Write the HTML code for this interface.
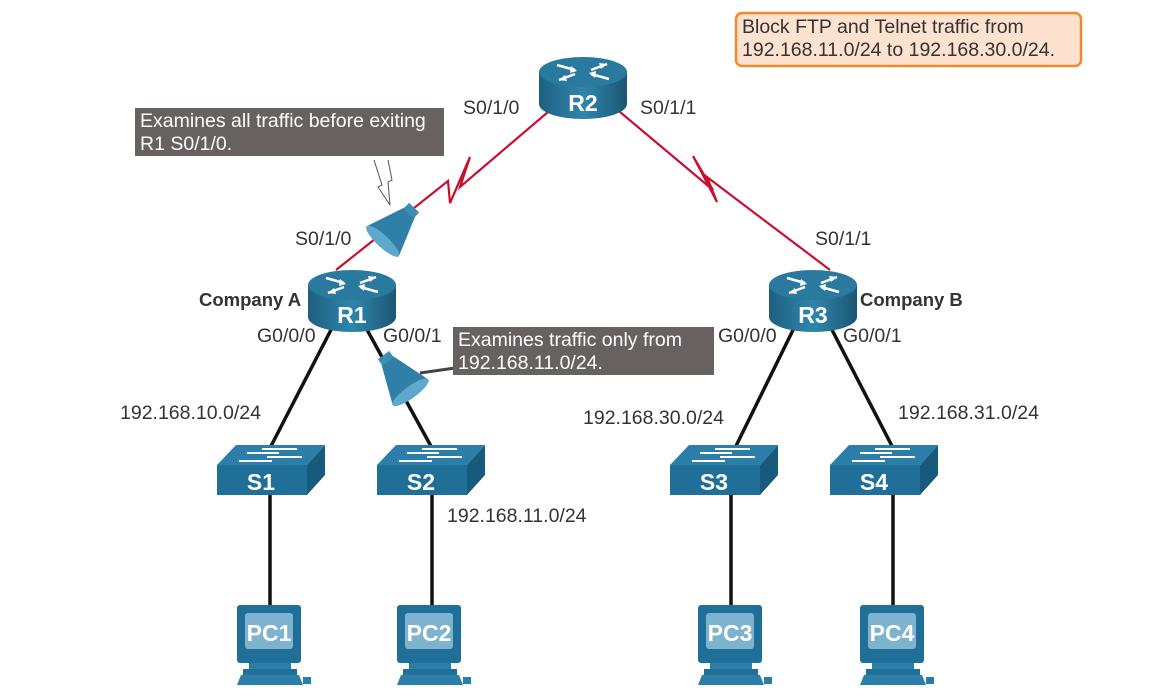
<!DOCTYPE html>
<html><head><meta charset="utf-8"><style>
html,body{margin:0;padding:0;background:#fff;}
svg{display:block;font-family:"Liberation Sans",sans-serif;}
.l{font-size:19.5px;fill:#333;}
.w{font-size:19.5px;fill:#fff;}
.b{font-size:18.5px;fill:#333;font-weight:bold;}
.n{font-size:23px;fill:#fff;font-weight:bold;text-anchor:middle;}
</style></head><body>
<svg width="1171" height="700" viewBox="0 0 1171 700" xmlns="http://www.w3.org/2000/svg">
<defs>
<linearGradient id="rg" x1="0" x2="1" y1="0" y2="0">
<stop offset="0" stop-color="#1e5f7f"/><stop offset="0.5" stop-color="#2f86ad"/><stop offset="1" stop-color="#1b5673"/></linearGradient>
<g id="router">
<path d="M-44,0 L-44,32 A44,15 0 0 0 44,32 L44,0 Z" fill="url(#rg)"/>
<ellipse cx="0" cy="0" rx="44" ry="15" fill="#2a7aa0"/>
<g stroke="#fff" stroke-width="2.5" fill="none">
<path d="M-26,-7 L-8,-2 M26,7 L8,2 M-24,8 L-8,2 M24,-8 L8,-2"/>
</g>
<g fill="#fff">
<path d="M-6,-1 L-12,-6 L-13,1 Z"/><path d="M6,1 L12,6 L13,-1 Z"/>
<path d="M-24,8 L-18,3 L-16,9 Z"/><path d="M24,-8 L18,-3 L16,-9 Z"/>
</g>
</g>
<g id="switch">
<path d="M19,0 L108,0 L90,20 L0,20 Z" fill="#2b7ea8"/>
<rect x="0" y="20" width="90" height="30" fill="#1f6f98"/>
<path d="M90,20 L108,0 L108,30 L90,50 Z" fill="#175a7c"/>
<g stroke="#fff" stroke-width="2"><path d="M45,4 L80,4 M30,8 L62,8 M50,12 L85,12 M22,16 L55,16"/></g>
</g>
<g id="pc">
<rect x="0" y="0" width="64" height="58" rx="3" fill="#1f6f98"/>
<rect x="8" y="8" width="48" height="36" rx="3" fill="#7eb3d0"/>
<rect x="12" y="58" width="42" height="6" fill="#2b7ea8"/>
<rect x="6" y="64" width="54" height="6" fill="#1f6f98"/>
<path d="M4,70 L62,70 L66,80 L0,80 Z" fill="#2b7ea8"/>
<rect x="66" y="72" width="8" height="7" fill="#2b7ea8"/>
</g>
<g id="funnel">
<path d="M0,-7 L40,-22 L40,22 L0,7 Z" fill="#2f7fa8"/>
<rect x="-6" y="-7" width="8" height="14" fill="#3d8db5"/>
<ellipse cx="40" cy="0" rx="6" ry="22" fill="#5ea8cc"/>
</g>
</defs>

<g stroke="#c8102e" stroke-width="2.2" fill="none" stroke-linejoin="miter">
<path d="M548,112 L460,187 L470,157 L450,203 L448,181 L336,270"/>
<path d="M620,112 L713,190 L693,156 L717,202 L707,177 L830,270"/>
</g>
<g stroke="#111" stroke-width="3.5">
<line x1="333" y1="326" x2="270" y2="448"/>
<line x1="365" y1="326" x2="432" y2="448"/>
<line x1="795" y1="326" x2="735" y2="448"/>
<line x1="830" y1="326" x2="893" y2="448"/>
<line x1="270" y1="495" x2="270" y2="607"/>
<line x1="432" y1="495" x2="432" y2="607"/>
<line x1="731" y1="495" x2="731" y2="607"/>
<line x1="893" y1="495" x2="893" y2="607"/>
</g>

<use href="#router" x="583" y="72"/>
<text class="n" x="583" y="111">R2</text>
<use href="#router" x="352" y="285"/>
<text class="n" x="352" y="323">R1</text>
<use href="#router" x="813" y="285"/>
<text class="n" x="813" y="323">R3</text>

<use href="#switch" x="217" y="445"/><text class="n" x="261" y="490">S1</text>
<use href="#switch" x="377" y="445"/><text class="n" x="421" y="490">S2</text>
<use href="#switch" x="670" y="445"/><text class="n" x="714" y="490">S3</text>
<use href="#switch" x="830" y="445"/><text class="n" x="874" y="490">S4</text>

<use href="#pc" x="237" y="605"/><text class="n" x="269" y="641">PC1</text>
<use href="#pc" x="397" y="605"/><text class="n" x="429" y="641">PC2</text>
<use href="#pc" x="698" y="605"/><text class="n" x="730" y="641">PC3</text>
<use href="#pc" x="860" y="605"/><text class="n" x="892" y="641">PC4</text>

<use href="#funnel" transform="translate(410,212) rotate(133)"/>
<use href="#funnel" transform="translate(387,360) rotate(54)"/>
<path d="M374,160 L382,185 L378,187 L390,205 L388,182 L392,180 L388,160" fill="#fff" stroke="#555" stroke-width="1"/>
<line x1="420" y1="373" x2="455" y2="368" stroke="#444" stroke-width="3"/>

<rect x="135" y="108" width="309" height="48" fill="#67615f"/>
<text class="w" x="140" y="127">Examines all traffic before exiting</text>
<text class="w" x="140" y="150">R1 S0/1/0.</text>
<rect x="453" y="327" width="261" height="48" fill="#67615f"/>
<text class="w" x="458" y="346">Examines traffic only from</text>
<text class="w" x="458" y="369">192.168.11.0/24.</text>
<rect x="736" y="13" width="345" height="53" rx="6" fill="#fde3cf" stroke="#f28a2b" stroke-width="2.5"/>
<text class="l" x="742" y="33">Block FTP and Telnet traffic from</text>
<text class="l" x="742" y="56">192.168.11.0/24 to 192.168.30.0/24.</text>

<text class="l" x="463" y="114">S0/1/0</text>
<text class="l" x="640" y="114">S0/1/1</text>
<text class="l" x="295" y="245">S0/1/0</text>
<text class="l" x="815" y="245">S0/1/1</text>
<text class="b" x="199" y="306">Company A</text>
<text class="b" x="860" y="306">Company B</text>
<text class="l" x="257" y="342">G0/0/0</text>
<text class="l" x="383" y="342">G0/0/1</text>
<text class="l" x="718" y="342">G0/0/0</text>
<text class="l" x="843" y="342">G0/0/1</text>
<text class="l" x="120" y="419">192.168.10.0/24</text>
<text class="l" x="583" y="424">192.168.30.0/24</text>
<text class="l" x="898" y="419">192.168.31.0/24</text>
<text class="l" x="447" y="522">192.168.11.0/24</text>
</svg>
</body></html>
